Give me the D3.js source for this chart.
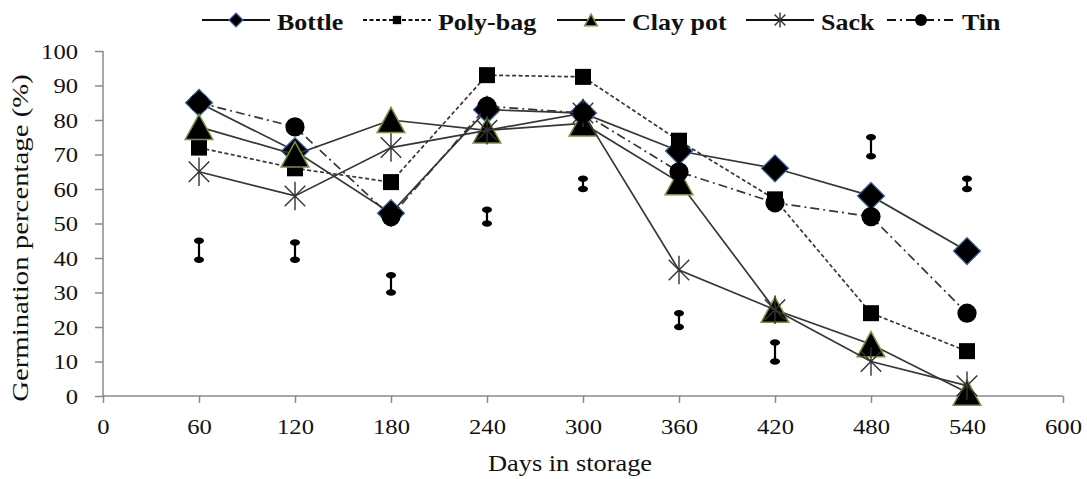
<!DOCTYPE html>
<html><head><meta charset="utf-8">
<script src="https://cdn.jsdelivr.net/npm/d3@7"></script>
<style>body{margin:0;background:#fff}svg{display:block}text{font-family:"Liberation Serif","Times New Roman",serif;fill:#111}</style>
</head><body><svg id="c" width="1087" height="479"></svg>
<script>
const days = [60,120,180,240,300,360,420,480,540];
const bottle  = [85,71,53,83,82,71,66,58,42];
const polybag = [72,66,62,93,92.5,74,57,24,13];
const claypot = [78,70,80,77,79,62,25,15,1];
const sack    = [65,58,72,77,82,36.5,25,10,3];
const tin     = [85,78,52,84,82,65,56,52,24];
const lsdLow  = [39.5,39.5,30,50,60,20,10,69.5,60];
const lsdHigh = [45,44.5,35,54,63,24,15.5,75,63];
const xTicks = [0,60,120,180,240,300,360,420,480,540,600];
const yTicks = [0,10,20,30,40,50,60,70,80,90,100];
const seriesNames = ["Bottle","Poly-bag","Clay pot","Sack","Tin"];

const svg = d3.select("#c");
const x = d3.scaleLinear().domain([0,600]).range([103,1063]);
const y = d3.scaleLinear().domain([0,100]).range([396,51]);

const series = [
  {name:seriesNames[0], vals:bottle, dash:null, marker:"diamond"},
  {name:seriesNames[1], vals:polybag, dash:"4,2.5", marker:"square"},
  {name:seriesNames[2], vals:claypot, dash:null, marker:"triangle"},
  {name:seriesNames[3], vals:sack, dash:null, marker:"star"},
  {name:seriesNames[4], vals:tin, dash:"9,4,2,4", marker:"circle"}
];

// axes
const axCol = "#8a8a8a";
const SX = 1.12;
const yAxis = svg.append("g").attr("transform","translate(103,0)")
  .call(d3.axisLeft(y).tickValues(yTicks).tickSize(8).tickPadding(17));
const xAxis = svg.append("g").attr("transform","translate(0,396)")
  .call(d3.axisBottom(x).tickValues(xTicks).tickSize(7).tickPadding(15));
[yAxis,xAxis].forEach(a=>{
  a.select(".domain").attr("stroke",axCol).attr("stroke-width",1.5);
  a.selectAll(".tick line").attr("stroke",axCol).attr("stroke-width",1.5);
  a.selectAll(".tick text").attr("font-size",22).attr("fill","#111")
   .style("font-family","'Liberation Serif',serif").attr("transform",`scale(${SX},1)`);
});
yAxis.selectAll(".tick text").attr("x",-25/SX);
yAxis.select(".domain").attr("d","M0,51V396");
xAxis.select(".domain").attr("d","M103,0H1063");

svg.append("text").attr("transform","translate(28,238) rotate(-90) scale(1.2,1)")
  .attr("text-anchor","middle").attr("font-size",24).text("Germination percentage (%)");
svg.append("text").attr("transform","translate(570,471) scale(1.1,1)")
  .attr("text-anchor","middle").attr("font-size",24).text("Days in storage");

function drawMarker(g, type, cx, cy, s){
  if(type==="diamond"){
    g.append("path").attr("d",`M${cx},${cy-s}L${cx+s},${cy}L${cx},${cy+s}L${cx-s},${cy}Z`)
     .attr("fill","#000").attr("stroke","#3c66a8").attr("stroke-width",1.2);
  } else if(type==="square"){
    g.append("rect").attr("x",cx-s*0.64).attr("y",cy-s*0.64).attr("width",s*1.28).attr("height",s*1.28).attr("fill","#000");
  } else if(type==="triangle"){
    const w=s*1.15, h=s*1.05;
    g.append("path").attr("d",`M${cx},${cy-h}L${cx+w},${cy+h}L${cx-w},${cy+h}Z`)
     .attr("fill","#000").attr("stroke","#77933c").attr("stroke-width",1.5);
  } else if(type==="star"){
    const r=s*0.95;
    const d=`M${cx-r*0.72},${cy-r*0.72}L${cx+r*0.72},${cy+r*0.72}M${cx+r*0.72},${cy-r*0.72}L${cx-r*0.72},${cy+r*0.72}M${cx},${cy-r}L${cx},${cy+r}`;
    g.append("path").attr("d",d).attr("stroke","#333").attr("stroke-width",1.4).attr("fill","none");
  } else if(type==="circle"){
    g.append("circle").attr("cx",cx).attr("cy",cy).attr("r",s*0.8).attr("fill","#000");
  }
}

// error (LSD) bars
const eb = svg.append("g");
days.forEach((d,i)=>{
  const cx=x(d), y1=y(lsdHigh[i]), y2=y(lsdLow[i]);
  eb.append("line").attr("x1",cx).attr("x2",cx).attr("y1",y1).attr("y2",y2).attr("stroke","#000").attr("stroke-width",2.2);
  [y1,y2].forEach(yy=>eb.append("ellipse").attr("cx",cx).attr("cy",yy).attr("rx",5).attr("ry",3.2).attr("fill","#000"));
});

const line = d3.line().x((v,i)=>x(days[i])).y(v=>y(v));
const mSize = {diamond:13.5, square:12.5, triangle:12, star:15, circle:12};
series.forEach(s=>{
  const g = svg.append("g");
  g.append("path").attr("d",line(s.vals)).attr("fill","none").attr("stroke","#363636")
   .attr("stroke-width",1.7).attr("stroke-dasharray",s.dash);
  s.vals.forEach((v,i)=>drawMarker(g,s.marker,x(days[i]),y(v),mSize[s.marker]));
});

// legend
const legX = [202,363,557,746,887];
const legM = {diamond:7, square:6.5, triangle:5.5, star:8, circle:7.5};
const lg = svg.append("g");
series.forEach((s,i)=>{
  const x0=legX[i], ly=20;
  lg.append("line").attr("x1",x0).attr("x2",x0+68).attr("y1",ly).attr("y2",ly)
    .attr("stroke","#111").attr("stroke-width",1.8).attr("stroke-dasharray",s.dash);
  drawMarker(lg,s.marker,x0+34,ly,legM[s.marker]);
  lg.append("text").attr("transform",`translate(${x0+75},${ly+9.5}) scale(1.13,1)`)
    .attr("font-size",23).attr("font-weight","bold").text(s.name);
});
</script></body></html>
